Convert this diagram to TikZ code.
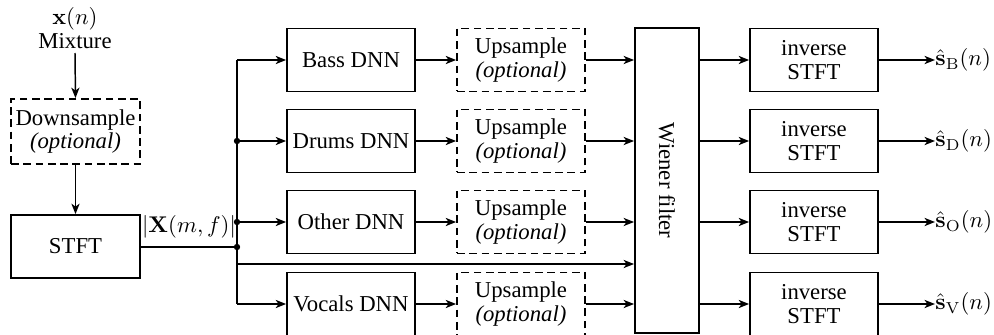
\documentclass[tikz,border=0pt]{standalone}
\usepackage[no-math]{fontspec}
\setmainfont{Liberation Serif}
\usetikzlibrary{arrows.meta,calc}

\tikzset{
  blk/.style={draw, line width=0.8pt, minimum width=56.3pt, minimum height=27.7pt,
              align=center, inner sep=1pt, font=\fontsize{10}{10.5}\selectfont},
  optblk/.style={blk, dashed, dash pattern=on 3.4pt off 2.0pt},
  wire/.style={line width=0.65pt},
  arr/.style={wire, -{Stealth[length=4.6pt, width=3.6pt, inset=1.3pt]}},
  jdot/.style={circle, fill, inner sep=0pt, minimum size=2.8pt},
  lbl/.style={inner sep=0pt, font=\fontsize{10}{10.5}\selectfont}
}

\begin{document}
\begin{tikzpicture}[x=0.44pt, y=-0.44pt]
  \useasboundingbox (0,0) rectangle (994,335);

  % input side
  \node[lbl, align=center] (mix) at (75,28) {$\mathbf{x}(n)$\\Mixture};
  \node[optblk, minimum height=28.6pt, minimum width=56.8pt] (down) at (75.5,131.5)
       {Downsample\\\textit{(optional)}};
  \node[blk, minimum width=56.8pt] (stft) at (75.5,246.5) {STFT};
  \draw[arr] (mix.south |- 0,53) -- (down.north);
  \draw[arr] (down.south) -- (stft.north);

  % bus feeding the separation networks
  \coordinate (busB) at (237,60);
  \coordinate (busD) at (237,141);
  \coordinate (busO) at (237,222);
  \coordinate (busS) at (237,247);
  \coordinate (busW) at (237,264);
  \coordinate (busV) at (237,304);
  \draw[wire] (stft.east |- busS) -- (busS);
  \draw[wire] (busB) -- (busV);
  \node[lbl] (mag) at (189,227) {$|\mathbf{X}(m,f)|$};

  % Wiener filter
  \node[blk, minimum width=134pt, minimum height=28.2pt, rotate=-90] (wien) at (667,180.5) {Wiener filter};

  % one processing branch per source
  \foreach \id/\name/\sub/\y in {B/Bass/B/60, D/Drums/D/141, O/Other/O/222, V/Vocals/V/304}{
    \node[blk] (dnn\id) at (351,\y) {\name{} DNN};
    \node[optblk] (up\id) at (521,\y) {Upsample\\\textit{(optional)}};
    \node[blk] (inv\id) at (814,\y) {inverse\\STFT};
    \coordinate (out\id) at (935,\y);
    \node[lbl, anchor=west] (lab\id) at (out\id) {$\hat{\mathbf{s}}_{\mathrm{\sub}}(n)$};
    \draw[arr] (bus\id) -- (dnn\id.west);
    \draw[arr] (dnn\id.east) -- (up\id.west);
    \draw[arr] (up\id.east) -- (up\id.east -| wien.south);
    \draw[arr] (inv\id.west -| wien.north) -- (inv\id.west);
    \draw[arr] (inv\id.east) -- (out\id);
  }
  \draw[arr] (busW) -- (busW -| wien.south);

  \node[jdot] at (busD) {};
  \node[jdot] at (busO) {};
  \node[jdot] at (busS) {};
\end{tikzpicture}
\end{document}
